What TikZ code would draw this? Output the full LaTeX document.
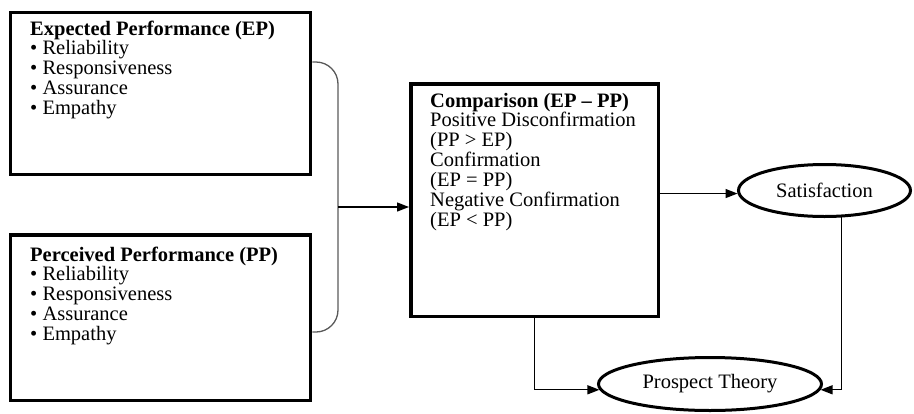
\documentclass[tikz,border=0pt]{standalone}
\usepackage{fontspec}
\setmainfont{Liberation Serif}
\usetikzlibrary{arrows.meta,positioning,shapes.geometric}
\definecolor{BraceGray}{HTML}{5A5A5A}
\tikzset{
  perfbox/.style={draw,line width=3.5pt,minimum width=300pt,inner sep=0pt},
  boxtext/.style={anchor=north west,inner sep=0pt,align=left,
                  font=\fontsize{20.5}{20}\selectfont},
  outcome/.style={ellipse,draw,line width=3pt,inner sep=0pt,
                  font=\fontsize{20.5}{20}\selectfont},
  link/.style={line width=1.3pt,-{Triangle[length=12pt,width=9pt]}}
}
\begin{document}
\begin{tikzpicture}[x=1pt,y=-1pt]
  \useasboundingbox (0,0) rectangle (914,413);
  % performance boxes
  \node[perfbox,minimum height=162pt] (ep) at (160.5,93.5) {};
  \node[boxtext] (eptext) at (30,21) {%
    \textbf{Expected Performance (EP)}\\[-1.3pt]
    \textbullet\ Reliability\\
    \textbullet\ Responsiveness\\
    \textbullet\ Assurance\\
    \textbullet\ Empathy};
  \node[perfbox,minimum height=165.5pt] (pp) at (160.5,317.5) {};
  \node[boxtext] (pptext) at (30,247) {%
    \textbf{Perceived Performance (PP)}\\[-1.3pt]
    \textbullet\ Reliability\\
    \textbullet\ Responsiveness\\
    \textbullet\ Assurance\\
    \textbullet\ Empathy};
  % comparison
  \node[perfbox,minimum width=247.5pt,minimum height=232.5pt] (comp) at (534.5,200) {};
  \node[boxtext] (comptext) at (430,93) {%
    \textbf{Comparison (EP -- PP)}\\[-1.3pt]
    Positive Disconfirmation\\
    (PP > EP)\\
    Confirmation\\
    (EP = PP)\\
    Negative Confirmation\\
    (EP < PP)};
  % outcomes
  \node[outcome,minimum width=172pt,minimum height=52pt] (sat) at (824.5,190.5) {Satisfaction};
  \node[outcome,minimum width=223pt,minimum height=53pt] (pt) at (710,384) {Prospect Theory};
  % brace joining EP and PP
  \coordinate (brmid) at (338,207);
  \coordinate (satin) at (sat.-178);
  \draw[BraceGray,line width=1.3pt,rounded corners=22pt]
    ([yshift=31.5pt]ep.east) -| (brmid) |- ([yshift=-14.5pt]pp.east);
  \draw[link] (brmid) -- (comp.west |- brmid);
  \draw[link] (comp.east |- satin) -- (satin);
  \draw[link] (comp.south) |- (pt.183);
  \draw[link] (sat.-58) |- (pt.-3);
\end{tikzpicture}
\end{document}
